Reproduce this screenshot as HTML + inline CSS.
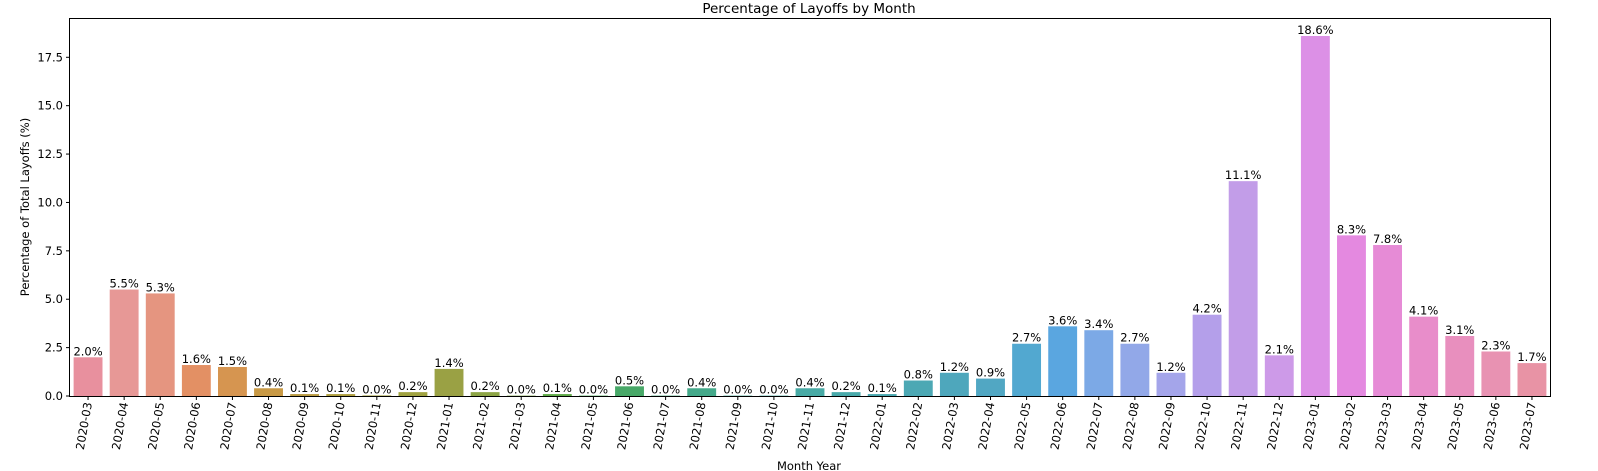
<!DOCTYPE html>
<html><head><meta charset="utf-8"><style>
html,body{margin:0;padding:0;background:#fff;overflow:hidden;width:1598px;height:471px;}
svg{display:block;font-family:"DejaVu Sans","Liberation Sans",sans-serif;}
</style></head><body>
<svg id="chart" width="1598" height="471" viewBox="0 0 1598 471" xmlns="http://www.w3.org/2000/svg">
<text x="809" y="13" text-anchor="middle" font-size="13.5" fill="#000">Percentage of Layoffs by Month</text>
<g id="bars"></g>
<g id="yaxis"></g>
<g id="xaxis"></g>
<rect x="69.5" y="18.5" width="1481" height="378" fill="none" stroke="#000" stroke-width="1"/>
<text transform="translate(29,207) rotate(-90)" text-anchor="middle" font-size="11.5" fill="#000">Percentage of Total Layoffs (%)</text>
<text x="809" y="470" text-anchor="middle" font-size="11.5" fill="#000">Month Year</text>
</svg>
<script>
const categories = ["2020-03","2020-04","2020-05","2020-06","2020-07","2020-08","2020-09","2020-10","2020-11","2020-12","2021-01","2021-02","2021-03","2021-04","2021-05","2021-06","2021-07","2021-08","2021-09","2021-10","2021-11","2021-12","2022-01","2022-02","2022-03","2022-04","2022-05","2022-06","2022-07","2022-08","2022-09","2022-10","2022-11","2022-12","2023-01","2023-02","2023-03","2023-04","2023-05","2023-06","2023-07"];
const values = [2.0,5.5,5.3,1.6,1.5,0.4,0.1,0.1,0.03,0.2,1.4,0.2,0.02,0.1,0.02,0.5,0.02,0.4,0.02,0.02,0.4,0.2,0.1,0.8,1.2,0.9,2.7,3.6,3.4,2.7,1.2,4.2,11.1,2.1,18.6,8.3,7.8,4.1,3.1,2.3,1.7];
const yTicks = [0,2.5,5,7.5,10,12.5,15,17.5];
const colors = ["#e8909e","#e79896","#e59580","#e39064","#d69550","#c89945","#bb9c42","#b0a040","#a5a240","#a0a240","#9aa144","#8da545","#7aa845","#5fab48","#45ad55","#48a868","#45a97b","#44a98a","#44a995","#44a99f","#48aaa5","#48a9aa","#4aa8b0","#4ca8b4","#4ea7bc","#51a7c3","#52a8d0","#5aa6e0","#7ca9e6","#92a8e8","#a4a5ea","#b49fea","#c29de8","#cd9ae8","#dc90e6","#e489e0","#e68bd6","#e88dca","#e88fbe","#e892b2","#e893a5"];
const NS="http://www.w3.org/2000/svg";
const L=70,R=1550,T=18,B=396;
const yMax=Math.max(...values)*1.05;
const y=v=>B-(v/yMax)*(B-T);
const band=(R-L)/categories.length;
const xc=i=>L+(i+0.5)*band;
const bars=document.getElementById('bars'),ya=document.getElementById('yaxis'),xa=document.getElementById('xaxis');
function mk(t,a,p){const e=document.createElementNS(NS,t);for(const k in a)e.setAttribute(k,a[k]);p.appendChild(e);return e;}
values.forEach((v,i)=>{
  const w=band*0.8;
  const r=mk('rect',{x:xc(i)-w/2,y:y(v),width:w,height:B-y(v),fill:colors[i]},bars);
  
  
  const t=mk('text',{x:xc(i),y:y(v)-2,'text-anchor':'middle','font-size':'11.5',fill:'#000'},bars);
  t.textContent=v.toFixed(1)+'%';
  
  
  const tk=mk('line',{x1:xc(i),x2:xc(i),y1:B,y2:B+4,stroke:'#000'},xa);
  
  
  const lb=mk('text',{transform:`translate(${xc(i)+4},${B+7}) rotate(-80)`,'text-anchor':'end','font-size':'11.5',fill:'#000'},xa);
  lb.textContent=categories[i];
  
  
});
yTicks.forEach(v=>{
  const tk=mk('line',{x1:L-4,x2:L,y1:y(v),y2:y(v),stroke:'#000'},ya);
  
  
  const lb=mk('text',{x:L-7,y:y(v)+4,'text-anchor':'end','font-size':'11.5',fill:'#000'},ya);
  lb.textContent=v.toFixed(1);
  
  
});
</script>
</body></html>
